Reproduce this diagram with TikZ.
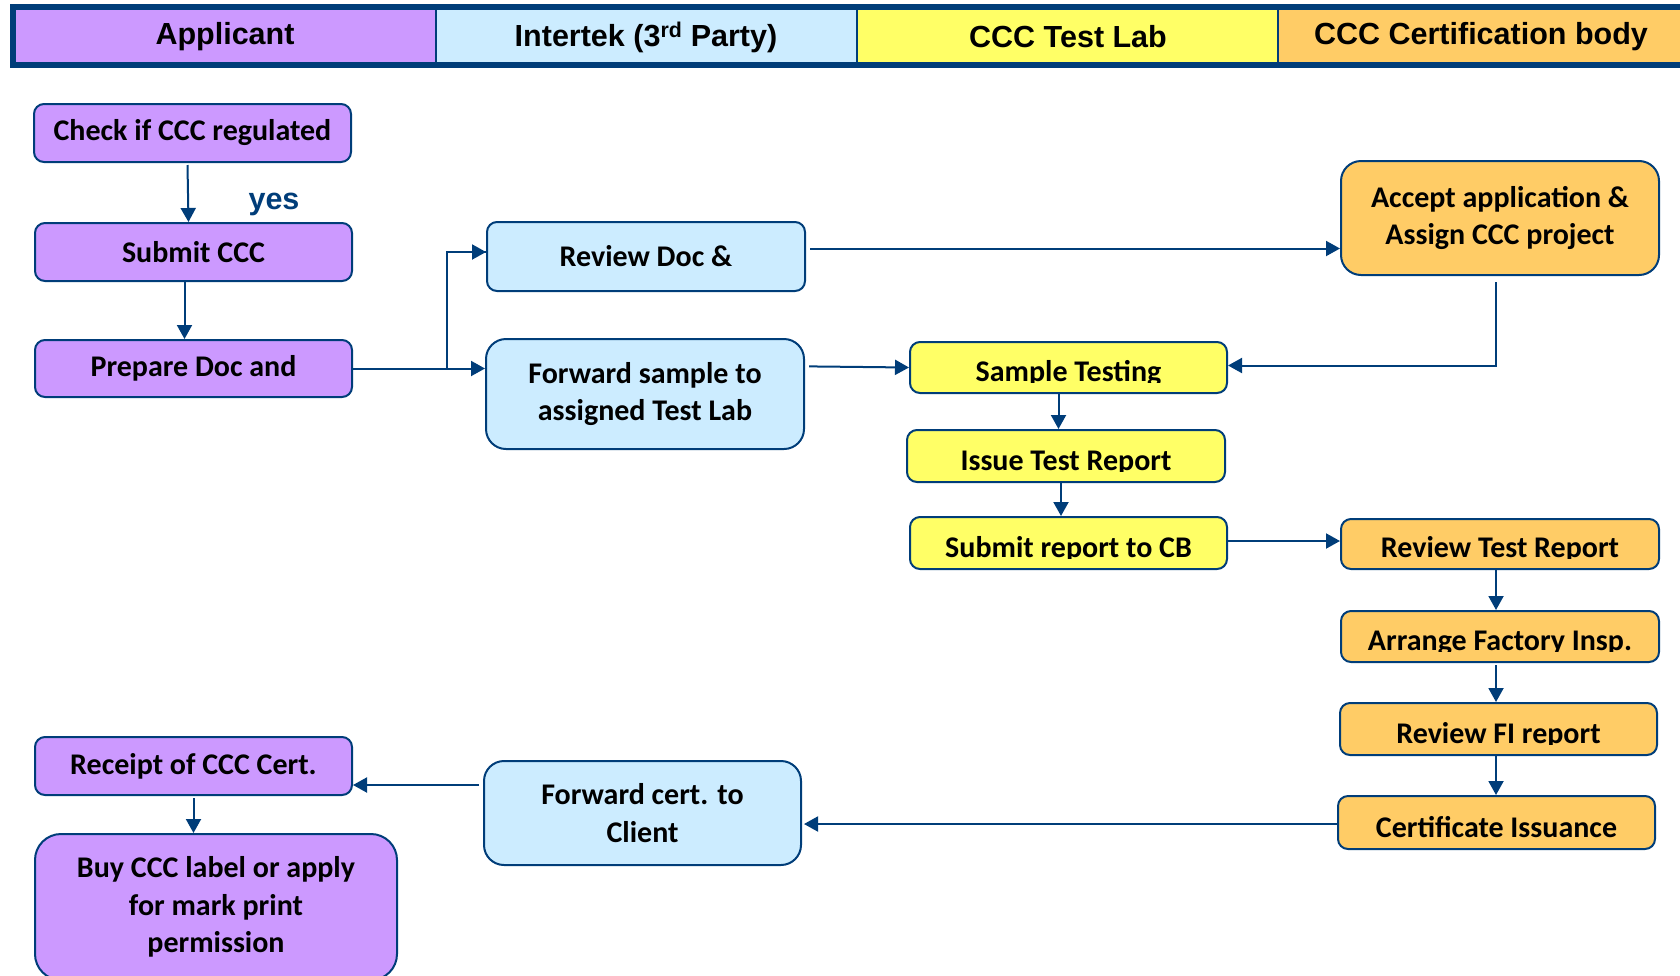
\documentclass[tikz,border=0pt]{standalone}
\usepackage{fontspec}
\setmainfont{Carlito}
\newfontfamily\headfont{Liberation Sans}
\usetikzlibrary{arrows.meta,positioning}

\definecolor{edgeblue}{RGB}{0,61,121}
\definecolor{applicant}{RGB}{204,153,255}
\definecolor{intertek}{RGB}{204,236,255}
\definecolor{testlab}{RGB}{255,255,102}
\definecolor{certbody}{RGB}{255,204,102}

\tikzset{
  box/.style={draw=edgeblue, line width=2pt, rounded corners=10pt, align=center,
    inner sep=0pt, font=\fontsize{30}{37.5}\selectfont\bfseries},
  bigbox/.style={box, rounded corners=20pt},
  boxtext/.style={inner sep=0pt, font=\fontsize{30}{37.5}\selectfont\bfseries},
  headtext/.style={font=\headfont\bfseries\fontsize{30.5}{30.5}\selectfont},
  flow/.style={draw=edgeblue, line width=2pt, -{Triangle[length=14pt,width=15pt]}},
}

% text that is cut off just under its base line
\newcommand{\cutlabel}[3]{%
  \begin{scope}
    \clip ([yshift=11.5pt]#1.south west) rectangle (#1.north east);
    \node[boxtext, anchor=base] (#2) at ([yshift=12.5pt]#1.south) {#3};
  \end{scope}}

\begin{document}
\begin{tikzpicture}[x=1pt, y=-1pt]
  \useasboundingbox (0,0) rectangle (1680,975);

  % Header lanes
  \fill[applicant] (12,7) rectangle (436,65);
  \fill[intertek] (436,7) rectangle (857,65);
  \fill[testlab] (857,7) rectangle (1278,65);
  \fill[certbody] (1278,7) rectangle (1690,65);
  \draw[edgeblue, line width=2pt] (436,7) -- (436,65) (857,7) -- (857,65) (1278,7) -- (1278,65);
  \draw[edgeblue, line width=6pt] (1700,7) -- (12.7,7) -- (12.7,65.3) -- (1700,65.3);
  \node[headtext] (hApp) at (225,37) {Applicant};
  \node[headtext] (hInt) at (646,37) {Intertek (3\textsuperscript{rd} Party)};
  \node[headtext] (hLab) at (1068,37) {CCC Test Lab};
  \node[headtext] (hCB) at (1481,37) {CCC Certification body};

  % Applicant
  \node[box, fill=applicant, minimum width=317pt, minimum height=58pt] (check) at (192.5,133) {Check if CCC regulated};
  \node[box, fill=applicant, minimum width=317pt, minimum height=58pt] (submit) at (193.5,252) {Submit CCC};
  \node[box, fill=applicant, minimum width=317pt, minimum height=57pt] (prep) at (193.5,368.5) {Prepare Doc and};
  \node[box, fill=applicant, minimum width=317pt, minimum height=58pt] (receipt) at (193.5,766) {Receipt of CCC Cert.};
  \node[box, fill=applicant, rounded corners=26pt, minimum width=362pt, minimum height=146pt] (buy) at (216,907)
    {Buy CCC label or apply\\for mark print\\permission};
  \node[headtext, text=edgeblue] (yes) at (274,204) {yes};

  % Intertek
  \node[box, fill=intertek, minimum width=318pt, minimum height=69pt] (revdoc) at (646,256.5) {Review Doc \&};
  \node[bigbox, fill=intertek, minimum width=318pt, minimum height=110pt] (fwdsample) at (645,394)
    {Forward sample to\\assigned Test Lab};
  \node[bigbox, fill=intertek, minimum width=317pt, minimum height=104pt] (fwdcert) at (642.5,813)
    {Forward cert. to\\Client};

  % Test lab
  \node[box, fill=testlab, minimum width=317pt, minimum height=51pt] (sample) at (1068.5,367.5) {};
  \cutlabel{sample}{sampleT}{Sample Testing}
  \node[box, fill=testlab, minimum width=318pt, minimum height=52pt] (issue) at (1066,456) {};
  \cutlabel{issue}{issueT}{Issue Test Report}
  \node[box, fill=testlab, minimum width=317pt, minimum height=52pt] (subrep) at (1068.5,543) {};
  \cutlabel{subrep}{subrepT}{Submit report to CB}

  % Certification body
  \node[bigbox, fill=certbody, minimum width=318pt, minimum height=114pt] (accept) at (1500,218)
    {Accept application \&\\Assign CCC project};
  \node[box, fill=certbody, minimum width=318pt, minimum height=50pt] (revtr) at (1500,544) {};
  \cutlabel{revtr}{revtrT}{Review Test Report}
  \node[box, fill=certbody, minimum width=318pt, minimum height=51pt] (arrange) at (1500,636.5) {};
  \cutlabel{arrange}{arrangeT}{Arrange Factory Insp.}
  \node[box, fill=certbody, minimum width=317pt, minimum height=52pt] (revfi) at (1498.5,729) {};
  \cutlabel{revfi}{revfiT}{Review FI report}
  \node[box, fill=certbody, minimum width=317pt, minimum height=53pt] (certiss) at (1496.5,822.5) {};
  \cutlabel{certiss}{certissT}{Certificate Issuance}

  % Connectors
  \coordinate (split) at (447,368.5);
  \draw[flow] ([xshift=-5pt,yshift=-2pt]check.south) -- ([xshift=-5pt]submit.north);
  \draw[flow] ([xshift=-9pt]submit.south) -- ([xshift=-9pt]prep.north);
  \draw[flow] (prep.east) -- (prep.east -| fwdsample.west);
  \draw[edgeblue, line width=2pt] (split) |- ([yshift=4.5pt]revdoc.west);
  \draw[flow] (split |- revdoc.west) ++(0,-4.5) -- ([yshift=4.5pt]revdoc.west);
  \draw[flow] ([xshift=4pt,yshift=8pt]revdoc.east) -- ([yshift=8pt]revdoc.east -| accept.west);
  \draw[flow] ([xshift=4pt,yshift=27.6pt]fwdsample.east) -- (sample.west);
  \draw[flow] ([xshift=-4pt,yshift=-6pt]accept.south) |- ([yshift=2pt]sample.east);
  \draw[flow] ([xshift=-10pt]sample.south) -- ([xshift=-10pt]sample.south |- issue.north);
  \draw[flow] ([xshift=-5pt]issue.south) -- ([xshift=-5pt]issue.south |- subrep.north);
  \draw[flow] ([yshift=2pt]subrep.east) -- ([yshift=2pt]subrep.east -| revtr.west);
  \draw[flow] ([xshift=-4pt]revtr.south) -- ([xshift=-4pt]revtr.south |- arrange.north);
  \draw[flow] ([xshift=-4pt,yshift=-2pt]arrange.south) -- ([xshift=-4pt]arrange.south |- revfi.north);
  \draw[flow] ([xshift=-2.5pt]revfi.south) -- ([xshift=-2.5pt]revfi.south |- certiss.north);
  \draw[flow] ([yshift=-1.5pt]certiss.west) -- ([xshift=2pt,yshift=-1.5pt]certiss.west -| fwdcert.east);
  \draw[flow] ([xshift=-4pt,yshift=28pt]fwdcert.west) -- ([yshift=28pt]fwdcert.west -| receipt.east);
  \draw[flow] ([yshift=-2pt]receipt.south) -- (receipt.south |- buy.north);
\end{tikzpicture}
\end{document}
